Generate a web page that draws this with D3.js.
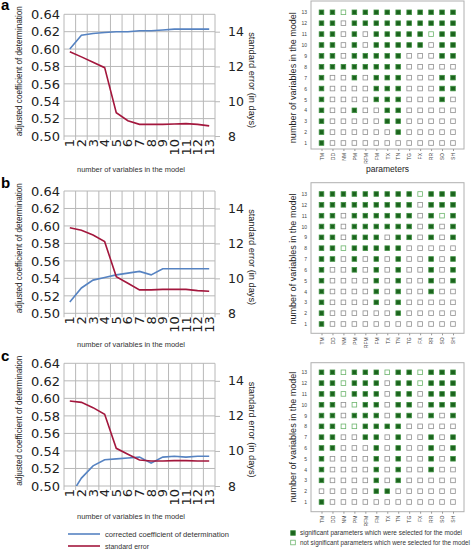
<!DOCTYPE html>
<html>
<head>
<meta charset="utf-8">
<script src="https://cdn.jsdelivr.net/npm/d3@7"></script>
<style>
  body { margin: 0; background: #fff; }
  svg { display: block; }
</style>
</head>
<body>
<div id="chart"></div>
<script>
// x categories: number of variables in the model
const nVars = ["1","2","3","4","5","6","7","8","9","10","11","12","13"];
const leftTicks = [0.50, 0.52, 0.54, 0.56, 0.58, 0.60, 0.62, 0.64];
const rightTicks = [8, 10, 12, 14];

// adjusted coefficient of determination (left axis)
const r2A = [0.600, 0.616, 0.618, 0.619, 0.620, 0.620, 0.621, 0.621, 0.622, 0.623, 0.623, 0.623, 0.623];
const r2B = [0.513, 0.529, 0.538, 0.541, 0.544, 0.546, 0.548, 0.544, 0.551, 0.551, 0.551, 0.551, 0.551];
const r2C = [0.488, 0.509, 0.523, 0.530, 0.531, 0.532, 0.533, 0.526, 0.533, 0.534, 0.533, 0.534, 0.534];

// standard error in days (right axis)
const seA = [12.85, 12.55, 12.24, 11.93, 9.34, 8.88, 8.67, 8.67, 8.67, 8.69, 8.71, 8.67, 8.58];
const seB = [12.90, 12.75, 12.48, 12.10, 10.10, 9.72, 9.34, 9.34, 9.37, 9.37, 9.37, 9.30, 9.26];
const seC = [12.85, 12.77, 12.47, 12.09, 10.15, 9.81, 9.48, 9.43, 9.43, 9.45, 9.45, 9.43, 9.43];

// parameters on the x-axis of the selection grids
const params = ["TM","DD","NM","PM","RFM","FM","TX","TN","TG","FX","RR","SO","SH"];

// selection per model size (row 1 first): 1 = significant, 2 = not significant, 0 = not selected
const selA = [
  "1000000000000","1000000100000","1000001100000","1001001100000","1000011100010",
  "1000011100011","1001011100011","1111111100000","1101111100011","1101011111011",
  "1101011111211","1101111111111","1121111111111"];
const selB = [
  "1000000000000","1000000100000","1000010100000","1000010100100","1000010100101",
  "1001010100101","1101010100101","1121111100000","1101110110101","1101111110101",
  "1101111110121","1111111110111","1111111112111"];
const selC = [
  "1000000000000","0000011000000","1000010100000","1000010100100","1000010100101",
  "1100010100101","1100110100101","1122111100000","1101110110101","1102110110111",
  "1121110110111","1121110112111","1121112112111"];

const W = 474, H = 551;
const blue = "#5683c2", red = "#a3173d", gridCol = "#b8b8b8";
const numFont = "DejaVu Sans", txtFont = "Liberation Sans";

const svg = d3.select("#chart").append("svg")
  .attr("width", W).attr("height", H);

// Line chart panel (left column)
const drawLines = (id, top, bottom, r2, se, letter, letterY, titleY) => {
  const px0 = 64, px1 = 215;
  const g = svg.append("g");

  let x = d3.scaleBand().domain(nVars).range([px0, px1]);
  let yL = d3.scaleLinear().domain([0.50, 0.64]).range([bottom, top]);
  let yR = d3.scaleLinear().domain([8, 15]).range([bottom, top]);

  // horizontal gridlines
  g.append("g").selectAll("line").data(leftTicks).enter().append("line")
    .attr("x1", px0).attr("x2", px1)
    .attr("y1", d => yL(d)).attr("y2", d => yL(d))
    .attr("stroke", gridCol).attr("stroke-width", 1);

  // vertical gridlines on category boundaries
  let bounds = nVars.map(d => x(d)).concat([px1]);
  g.append("g").selectAll("line").data(bounds).enter().append("line")
    .attr("x1", d => d).attr("x2", d => d)
    .attr("y1", top).attr("y2", bottom + 4)
    .attr("stroke", gridCol).attr("stroke-width", 1);

  // left axis
  g.append("g")
    .attr("transform", "translate(" + px0 + ",0)")
    .call(d3.axisLeft(yL).tickValues(leftTicks).tickSize(0).tickPadding(4).tickFormat(d3.format(".2f")))
    .call(a => a.select(".domain").remove())
    .selectAll("text")
    .attr("font-family", numFont).attr("font-size", 13).attr("fill", "#222");

  // right axis
  let ra = g.append("g")
    .attr("transform", "translate(" + px1 + ",0)")
    .call(d3.axisRight(yR).tickValues(rightTicks).tickSize(5).tickPadding(8).tickFormat(d3.format("d")));
  ra.select(".domain").remove();
  ra.selectAll(".tick line").attr("stroke", gridCol);
  ra.selectAll("text").attr("font-family", numFont).attr("font-size", 12.5).attr("fill", "#222");

  // bottom axis: rotated labels
  let xa = g.append("g")
    .attr("transform", "translate(0," + bottom + ")")
    .call(d3.axisBottom(x).tickSize(0));
  xa.select(".domain").remove();
  xa.selectAll("text")
    .attr("font-family", numFont).attr("font-size", 13).attr("fill", "#222")
    .attr("text-anchor", "end")
    .attr("dy", "0.35em")
    .attr("transform", "translate(0,3) rotate(-90)")
    .attr("x", 0).attr("y", 0);

  // clip lines to the plot area
  svg.append("clipPath").attr("id", "clip" + id)
    .append("rect").attr("x", px0).attr("y", top).attr("width", px1 - px0).attr("height", bottom - top);

  let cx = (d, i) => x(nVars[i]) + x.bandwidth() / 2;
  g.append("path").datum(r2)
    .attr("clip-path", "url(#clip" + id + ")")
    .attr("fill", "none").attr("stroke", blue).attr("stroke-width", 1.6)
    .attr("d", d3.line().x(cx).y(d => yL(d)));
  g.append("path").datum(se)
    .attr("clip-path", "url(#clip" + id + ")")
    .attr("fill", "none").attr("stroke", red).attr("stroke-width", 1.6)
    .attr("d", d3.line().x(cx).y(d => yR(d)));

  let mid = (top + bottom) / 2;
  // left axis title
  g.append("text")
    .attr("transform", "translate(22," + (mid - 4) + ") rotate(-90)")
    .attr("text-anchor", "middle")
    .attr("font-family", txtFont).attr("font-size", 9.5).attr("fill", "#222")
    .attr("textLength", 130).attr("lengthAdjust", "spacingAndGlyphs")
    .text("adjusted coefficient of determination");

  // right axis title
  g.append("text")
    .attr("transform", "translate(249," + (mid + 5) + ") rotate(90)")
    .attr("text-anchor", "middle")
    .attr("font-family", txtFont).attr("font-size", 9.5).attr("fill", "#222")
    .attr("textLength", 96).attr("lengthAdjust", "spacingAndGlyphs")
    .text("standard error (in days)");

  // x title
  g.append("text")
    .attr("x", 131).attr("y", titleY)
    .attr("text-anchor", "middle")
    .attr("font-family", txtFont).attr("font-size", 8).attr("fill", "#333")
    .attr("textLength", 108).attr("lengthAdjust", "spacingAndGlyphs")
    .text("number of variables in the model");

  // panel letter
  svg.append("text")
    .attr("x", 1).attr("y", letterY)
    .attr("font-family", "Liberation Sans").attr("font-weight", "bold").attr("font-size", 15)
    .text(letter);
};

// Parameter selection grid panel (right column)
const drawGrid = (sel, boxTop, boxBottom, rowTop, rowBottom, showParams) => {
  const bx0 = 311, bx1 = 464;
  const g = svg.append("g");

  g.append("rect")
    .attr("x", bx0).attr("y", boxTop)
    .attr("width", bx1 - bx0).attr("height", boxBottom - boxTop)
    .attr("fill", "none").attr("stroke", "#b0b0b0").attr("stroke-width", 1);

  let x = d3.scalePoint().domain(params).range([321.5, 453]);
  let rows = nVars.map(Number);
  let y = d3.scalePoint().domain(rows).range([rowBottom, rowTop]);

  // row labels
  let ya = g.append("g")
    .attr("transform", "translate(" + bx0 + ",0)")
    .call(d3.axisLeft(y).tickSize(0).tickPadding(4));
  ya.select(".domain").remove();
  ya.selectAll("text").attr("font-family", txtFont).attr("font-size", 5).attr("fill", "#444");

  // column labels
  let xa = g.append("g")
    .attr("transform", "translate(0," + boxBottom + ")")
    .call(d3.axisBottom(x).tickSize(2));
  xa.select(".domain").remove();
  xa.selectAll(".tick line").attr("stroke", "#999");
  xa.selectAll("text")
    .attr("font-family", txtFont).attr("font-size", 5).attr("fill", "#444")
    .attr("text-anchor", "end").attr("dy", "0.35em")
    .attr("transform", "translate(0,4) rotate(-90)")
    .attr("x", 0).attr("y", 0);

  // cells
  let cells = [];
  sel.forEach((s, ri) => s.split("").forEach((c, ci) => cells.push({row: rows[ri], p: params[ci], v: +c})));
  const sz = 4.6;
  g.append("g").selectAll("rect").data(cells).enter().append("rect")
    .attr("x", d => x(d.p) - sz / 2).attr("y", d => y(d.row) - sz / 2)
    .attr("width", sz).attr("height", sz)
    .attr("fill", d => d.v === 1 ? "#1b641d" : "#fff")
    .attr("stroke", d => d.v === 1 ? "#3f8f41" : (d.v === 2 ? "#6db56d" : "#8f8f8f"))
    .attr("stroke-width", 0.8);

  // y title
  g.append("text")
    .attr("transform", "translate(296," + ((rowTop + rowBottom) / 2) + ") rotate(-90)")
    .attr("text-anchor", "middle")
    .attr("font-family", txtFont).attr("font-size", 9).attr("fill", "#222")
    .attr("textLength", 131).attr("lengthAdjust", "spacingAndGlyphs")
    .text("number of variables in the model");

  if (showParams) {
    g.append("text")
      .attr("x", 387.5).attr("y", boxBottom + 23)
      .attr("text-anchor", "middle")
      .attr("font-family", txtFont).attr("font-size", 8.5).attr("fill", "#222")
      .text("parameters");
  }
};

drawLines("a", 14.3, 136, r2A, seA, "a", 10, 172);
drawLines("b", 191, 313.3, r2B, seB, "b", 188, 347);
drawLines("c", 363.3, 486, r2C, seC, "c", 361, 519);

drawGrid(selA, 1, 149, 12.3, 143, true);
drawGrid(selB, 182.7, 333.3, 194, 324, false);
drawGrid(selC, 362.7, 511.7, 372.3, 502, false);

// line legend (bottom left)
const lineLegend = [
  {label: "corrected coefficient of determination", color: blue, len: 124},
  {label: "standard error", color: red, len: 44}
];
let ll = svg.append("g").selectAll("g").data(lineLegend).enter().append("g")
  .attr("transform", (d, i) => "translate(68," + (534 + i * 12) + ")");
ll.append("line").attr("x1", 0).attr("x2", 32)
  .attr("stroke", d => d.color).attr("stroke-width", 1.6);
ll.append("text").attr("x", 37).attr("dy", "0.35em")
  .attr("font-family", txtFont).attr("font-size", 7.5).attr("fill", "#333")
  .attr("textLength", d => d.len).attr("lengthAdjust", "spacingAndGlyphs")
  .text(d => d.label);

// grid legend (bottom right)
const gridLegend = [
  {label: "significant parameters which were selected for the model", v: 1, len: 162},
  {label: "not significant parameters which were selected for the model", v: 2, len: 170}
];
let gl = svg.append("g").selectAll("g").data(gridLegend).enter().append("g")
  .attr("transform", (d, i) => "translate(293," + (533 + i * 9.5) + ")");
gl.append("rect").attr("x", -2.3).attr("y", -2.3).attr("width", 4.6).attr("height", 4.6)
  .attr("fill", d => d.v === 1 ? "#1b641d" : "#fff")
  .attr("stroke", d => d.v === 1 ? "#3f8f41" : "#6db56d").attr("stroke-width", 0.8);
gl.append("text").attr("x", 7).attr("dy", "0.35em")
  .attr("font-family", txtFont).attr("font-size", 7).attr("fill", "#333")
  .attr("textLength", d => d.len).attr("lengthAdjust", "spacingAndGlyphs")
  .text(d => d.label);
</script>
</body>
</html>
